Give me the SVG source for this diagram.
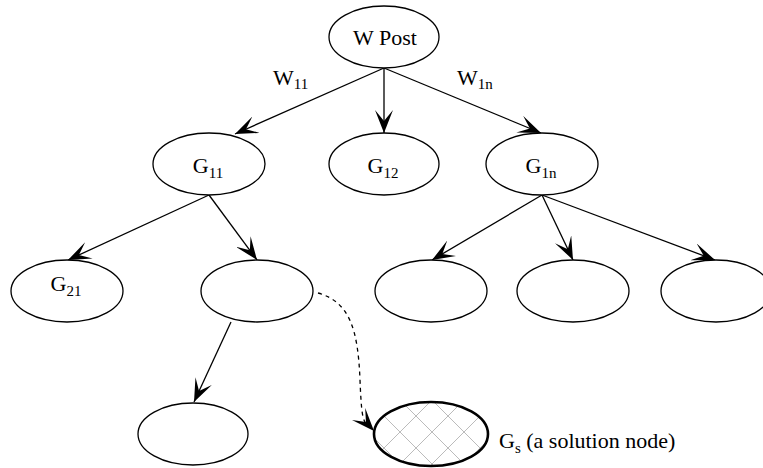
<svg xmlns="http://www.w3.org/2000/svg" width="763" height="468" viewBox="0 0 763 468">
<style>
.node{fill:#fff;stroke:#000;stroke-width:1.3}
.lbl{font-family:'Liberation Serif','DejaVu Serif',serif;font-size:22px;fill:#000}
.sub{font-size:15px}
.edge{fill:none;stroke:#000;stroke-width:1.3}
.dash{stroke-dasharray:4 4}
</style>
<defs>
<marker id="ah" viewBox="0 0 23 18" refX="23" refY="9" markerWidth="23" markerHeight="18" markerUnits="userSpaceOnUse" orient="auto">
<path d="M0,0 L23,9 L0,18 L11,9 Z" fill="#000"/>
</marker>
<pattern id="hatch" patternUnits="userSpaceOnUse" width="32" height="32" x="0" y="0">
<path d="M0,0 L32,32 M32,0 L0,32" stroke="#bbb" stroke-width="1"/>
</pattern>
</defs>
<g id="connectors">
<line class="edge" x1="384" y1="68" x2="235" y2="134" marker-end="url(#ah)"/>
<line class="edge" x1="384" y1="68" x2="384" y2="133" marker-end="url(#ah)"/>
<line class="edge" x1="384" y1="68" x2="541" y2="133" marker-end="url(#ah)"/>
<line class="edge" x1="209" y1="195" x2="68" y2="260" marker-end="url(#ah)"/>
<line class="edge" x1="209" y1="195" x2="257" y2="260" marker-end="url(#ah)"/>
<line class="edge" x1="542" y1="195" x2="432" y2="260" marker-end="url(#ah)"/>
<line class="edge" x1="542" y1="195" x2="573" y2="260" marker-end="url(#ah)"/>
<line class="edge" x1="542" y1="195" x2="715" y2="260" marker-end="url(#ah)"/>
<line class="edge" x1="231" y1="322" x2="194" y2="402" marker-end="url(#ah)"/>
<path class="edge dash" d="M318,293 C350,302 358,330 360,380 S364,420 374,431" marker-end="url(#ah)"/>
<text class="lbl" x="273" y="85">W<tspan class="sub" dy="4">11</tspan></text>
<text class="lbl" x="457" y="85">W<tspan class="sub" dy="4">1n</tspan></text>
</g>
<g id="wpost">
<ellipse class="node" cx="384" cy="37" rx="55" ry="31"/>
<text class="lbl" x="385" y="45" text-anchor="middle">W Post</text>
</g>
<g id="g11">
<ellipse class="node" cx="209" cy="164" rx="56" ry="31"/>
<text class="lbl" x="208" y="173" text-anchor="middle">G<tspan class="sub" dy="5">11</tspan></text>
</g>
<g id="g12">
<ellipse class="node" cx="384" cy="164" rx="55" ry="31"/>
<text class="lbl" x="383" y="173" text-anchor="middle">G<tspan class="sub" dy="5">12</tspan></text>
</g>
<g id="g1n">
<ellipse class="node" cx="542" cy="164" rx="56" ry="31"/>
<text class="lbl" x="541" y="173" text-anchor="middle">G<tspan class="sub" dy="5">1n</tspan></text>
</g>
<g id="g21">
<ellipse class="node" cx="67" cy="291" rx="56" ry="31"/>
<text class="lbl" x="66" y="291" text-anchor="middle">G<tspan class="sub" dy="5">21</tspan></text>
</g>
<g id="n22">
<ellipse class="node" cx="257" cy="291" rx="56" ry="31"/>
</g>
<g id="n23">
<ellipse class="node" cx="431" cy="291" rx="56" ry="31"/>
</g>
<g id="n24">
<ellipse class="node" cx="573" cy="291" rx="56" ry="31"/>
</g>
<g id="n25">
<ellipse class="node" cx="716" cy="291" rx="55" ry="31"/>
</g>
<g id="n31">
<ellipse class="node" cx="193" cy="434" rx="55" ry="31"/>
</g>
<g id="gs">
<ellipse cx="431" cy="434" rx="57" ry="32" fill="url(#hatch)" stroke="#000" stroke-width="2.6"/>
<text class="lbl" x="499" y="448">G<tspan class="sub" dy="5">s</tspan><tspan dy="-5"> (a solution node)</tspan></text>
</g>
</svg>
